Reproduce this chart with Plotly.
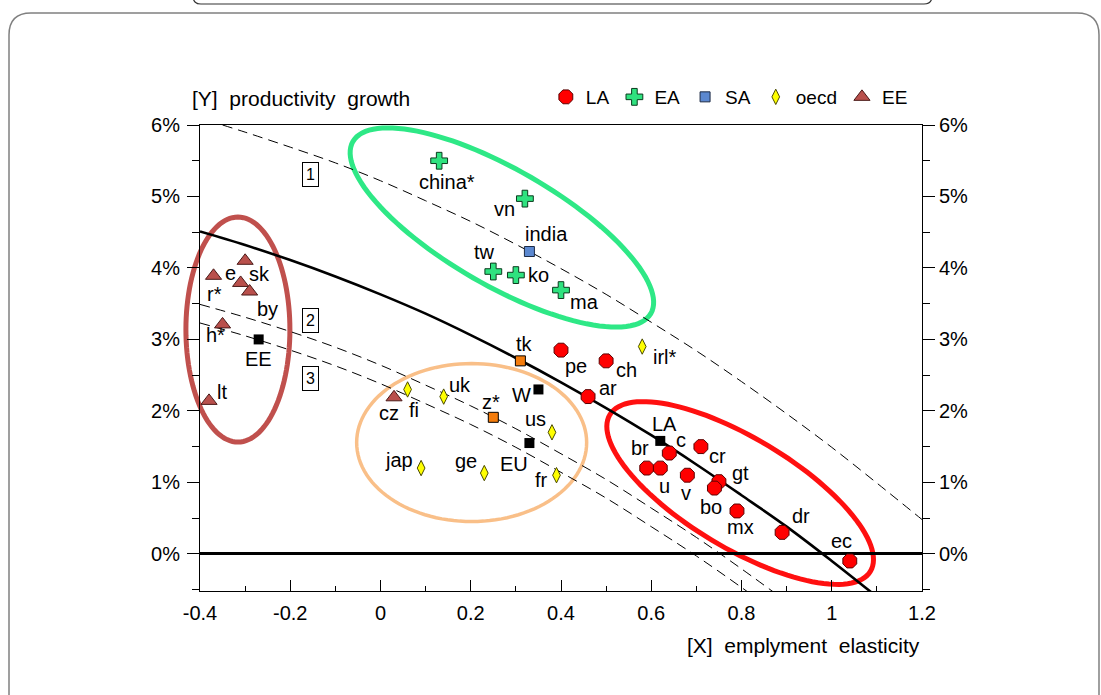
import math
import plotly.graph_objects as go

# ---------------- data ----------------
la_names = ["pe", "ch", "ar", "c", "cr", "br", "u", "v", "gt", "bo", "mx", "dr", "ec"]
la_x = [0.40, 0.50, 0.46, 0.64, 0.71, 0.59, 0.62, 0.68, 0.75, 0.74, 0.79, 0.89, 1.04]
la_y = [2.85, 2.70, 2.20, 1.41, 1.50, 1.20, 1.20, 1.10, 1.01, 0.92, 0.60, 0.30, -0.10]

ea_names = ["china*", "vn", "tw", "ko", "ma"]
ea_x = [0.13, 0.32, 0.25, 0.30, 0.40]
ea_y = [5.50, 4.97, 3.95, 3.90, 3.69]

sa_names = ["india"]
sa_x = [0.33]
sa_y = [4.23]

oecd_names = ["irl*", "fi", "uk", "us", "jap", "ge", "fr"]
oecd_x = [0.58, 0.06, 0.14, 0.38, 0.09, 0.23, 0.39]
oecd_y = [2.90, 2.30, 2.20, 1.70, 1.20, 1.13, 1.10]

ee_names = ["cz", "r*", "e", "sk", "by", "h*", "lt"]
ee_x = [0.03, -0.37, -0.31, -0.30, -0.29, -0.35, -0.38]
ee_y = [2.19, 3.89, 3.79, 4.10, 3.67, 3.21, 2.14]

agg_names = ["EE", "W", "EU", "LA"]
agg_x = [-0.27, 0.35, 0.33, 0.62]
agg_y = [3.00, 2.30, 1.55, 1.58]

oth_names = ["tk", "z*"]
oth_x = [0.31, 0.25]
oth_y = [2.70, 1.91]

# reference curves
solid_x = [-0.4, -0.3, -0.2, -0.1, 0.0, 0.1, 0.2, 0.3, 0.4, 0.5, 0.6, 0.7, 0.8, 0.9, 1.0, 1.1]
solid_y = [4.51, 4.32, 4.11, 3.88, 3.63, 3.36, 3.06, 2.74, 2.40, 2.04, 1.66, 1.25, 0.82, 0.38, -0.10, -0.60]

dash1_x = [-0.35, -0.3, -0.2, -0.1, 0.0, 0.1, 0.2, 0.3, 0.4, 0.5, 0.6, 0.7, 0.8, 0.9, 1.0, 1.1, 1.2]
dash1_y = [6.00, 5.90, 5.69, 5.47, 5.22, 4.94, 4.65, 4.33, 3.99, 3.63, 3.24, 2.84, 2.41, 1.96, 1.49, 0.99, 0.48]

dash23_x = [-0.4, -0.3, -0.2, -0.1, 0.0, 0.1, 0.2, 0.3, 0.4, 0.5, 0.6, 0.7, 0.8, 0.9]
dash2_y = [3.49, 3.31, 3.11, 2.89, 2.64, 2.36, 2.07, 1.75, 1.40, 1.04, 0.64, 0.23, -0.21, -0.67]
dash3_y = [3.23, 3.05, 2.85, 2.63, 2.38, 2.10, 1.81, 1.49, 1.14, 0.78, 0.38, -0.03, -0.47, -0.93]

x_ticks = [-0.4, -0.2, 0.0, 0.2, 0.4, 0.6, 0.8, 1.0, 1.2]
x_ticktext = ["-0.4", "-0.2", "0", "0.2", "0.4", "0.6", "0.8", "1", "1.2"]
y_ticks = [0, 1, 2, 3, 4, 5, 6]
y_ticktext = ["0%", "1%", "2%", "3%", "4%", "5%", "6%"]

# ---------------- layout geometry ----------------
W, H = 1101, 695
ML, MR, MT, MB = 200, 179, 125, 104
PW, PH = W - ML - MR, H - MT - MB
XR = [-0.4, 1.2]
YR = [-0.52, 6.0]
PXX = PW / (XR[1] - XR[0])
PXY = PH / (YR[1] - YR[0])

FONT = "Liberation Sans, Arial, Helvetica, sans-serif"

label_off = {
    "pe": (15, 16), "ch": (20, 9), "ar": (20, -9), "c": (12, -13), "cr": (17, 9),
    "br": (-7, -20), "u": (4, 18), "v": (-1, 18), "gt": (22, -9), "bo": (-3, 19),
    "mx": (4, 16), "dr": (19, -16), "ec": (-8, -20),
    "china*": (8, 21), "vn": (-20, 10), "tw": (-9, -20), "ko": (23, 0), "ma": (23, 12),
    "india": (17, -18),
    "irl*": (23, 10), "fi": (6, 21), "uk": (16, -12), "us": (-16, -13), "jap": (-22, -8),
    "ge": (-18, -12), "fr": (-15, 5),
    "cz": (-5, 16), "r*": (1, 18), "e": (-10, -10), "sk": (14, 13), "by": (18, 17),
    "h*": (-7, 11), "lt": (13, -9),
    "EE": (0, 20), "W": (-17, 6), "EU": (-15, 21), "LA": (4, -17),
    "tk": (4, -17), "z*": (-2, -15),
}

fig = go.Figure()

# curves
fig.add_trace(go.Scatter(x=solid_x, y=solid_y, mode="lines", line=dict(color="black", width=2.6, shape="spline"),
                         showlegend=False, hoverinfo="skip"))
for cx_, cy_ in [(dash1_x, dash1_y), (dash23_x, dash2_y), (dash23_x, dash3_y)]:
    fig.add_trace(go.Scatter(x=cx_, y=cy_, mode="lines",
                             line=dict(color="black", width=1, dash="10px,6px", shape="spline"),
                             showlegend=False, hoverinfo="skip"))

# markers
fig.add_trace(go.Scatter(x=la_x, y=la_y, mode="markers", name="LA",
                         marker=dict(symbol="octagon", size=15, color="#ff0000", line=dict(color="#5a0000", width=1))))
fig.add_trace(go.Scatter(x=ea_x, y=ea_y, mode="markers", name="EA",
                         marker=dict(symbol="cross", size=14, color="#2fe27f", line=dict(color="#0b3b1e", width=1))))
fig.add_trace(go.Scatter(x=sa_x, y=sa_y, mode="markers", name="SA",
                         marker=dict(symbol="square", size=10, color="#5b88d0", line=dict(color="#1c2a44", width=1))))
fig.add_trace(go.Scatter(x=oecd_x, y=oecd_y, mode="markers", name="oecd",
                         marker=dict(symbol="diamond-tall", size=11, color="#ffff00", line=dict(color="#4a4a00", width=1))))
fig.add_trace(go.Scatter(x=ee_x, y=ee_y, mode="markers", name="EE",
                         marker=dict(symbol="triangle-up", size=14, color="#b9504c", line=dict(color="#4a1a18", width=1))))
fig.add_trace(go.Scatter(x=agg_x, y=agg_y, mode="markers", showlegend=False,
                         marker=dict(symbol="square", size=10, color="black")))
fig.add_trace(go.Scatter(x=oth_x, y=oth_y, mode="markers", showlegend=False,
                         marker=dict(symbol="square", size=10, color="#f47c0c", line=dict(color="black", width=1))))
# dummy trace for right axis
fig.add_trace(go.Scatter(x=[None], y=[None], yaxis="y2", showlegend=False, hoverinfo="skip"))

annotations = []
for names, xs, ys in [(la_names, la_x, la_y), (ea_names, ea_x, ea_y), (sa_names, sa_x, sa_y),
                      (oecd_names, oecd_x, oecd_y), (ee_names, ee_x, ee_y),
                      (agg_names, agg_x, agg_y), (oth_names, oth_x, oth_y)]:
    for n, xv, yv in zip(names, xs, ys):
        dx, dy = label_off[n]
        annotations.append(dict(x=xv, y=yv, xref="x", yref="y", text=n, showarrow=False,
                                xanchor="center", yanchor="middle", xshift=dx, yshift=-dy,
                                font=dict(family=FONT, size=20, color="black")))

# numbered boxes
for txt, bx, by in [("1", -0.156, 5.31), ("2", -0.156, 3.27), ("3", -0.156, 2.46)]:
    annotations.append(dict(x=bx, y=by, xref="x", yref="y", text=txt, showarrow=False,
                            font=dict(family=FONT, size=16, color="black"),
                            bordercolor="black", borderwidth=1, borderpad=3, bgcolor="white"))

annotations.append(dict(x=-10 / PW, y=1 + (MT - 98) / PH, xref="paper", yref="paper",
                        text="[Y]  productivity  growth", showarrow=False, xanchor="left", yanchor="middle",
                        font=dict(family=FONT, size=21, color="black")))
annotations.append(dict(x=1.0, y=-(645 - (H - MB)) / PH, xref="paper", yref="paper",
                        text="[X]  emplyment  elasticity", showarrow=False, xanchor="right", yanchor="middle",
                        font=dict(family=FONT, size=21, color="black")))


def ellipse_path(cx, cy, a_px, b_px, ang_deg, n=120):
    """Ellipse outline in paper coordinates (not clipped to the plot area)."""
    th = math.radians(ang_deg)
    cxp = ML + (cx - XR[0]) * PXX
    cyp = MT + (YR[1] - cy) * PXY
    pts = []
    for k in range(n):
        t = 2 * math.pi * k / n
        dx = a_px * math.cos(t) * math.cos(th) - b_px * math.sin(t) * math.sin(th)
        dy = a_px * math.cos(t) * math.sin(th) + b_px * math.sin(t) * math.cos(th)
        px, py = cxp + dx, cyp + dy
        pts.append(((px - ML) / PW, (H - MB - py) / PH))
    return "M " + " L ".join(f"{a:.5f},{b:.5f}" for a, b in pts) + " Z"


shapes = []
for (cx, cy, a, b, ang, col, lw) in [
    (0.269, 4.566, 172, 58, 30, "#2ee886", 5),
    (0.797, 0.851, 152, 55, 31, "#ff1010", 5),
    (0.202, 1.557, 115, 79, 0, "#f9bf88", 3.5),
    (-0.316, 3.138, 52, 112.5, 0, "#c0504d", 5),
]:
    shapes.append(dict(type="path", xref="paper", yref="paper", path=ellipse_path(cx, cy, a, b, ang),
                       line=dict(color=col, width=lw), layer="below"))


def pp(px, py):
    return f"{(px - ML) / PW:.5f},{(H - MB - py) / PH:.5f}"


# page frame (rounded) and top box
frame = (f"M {pp(9, 720)} L {pp(9, 35)} Q {pp(9, 13)} {pp(31, 13)} L {pp(1077, 13)} "
         f"Q {pp(1099, 13)} {pp(1099, 35)} L {pp(1099, 720)}")
shapes.append(dict(type="path", xref="paper", yref="paper", path=frame, line=dict(color="#808080", width=1.5)))
topbox = (f"M {pp(193, -20)} L {pp(193, -4)} Q {pp(193, 4)} {pp(201, 4)} L {pp(924, 4)} "
          f"Q {pp(932, 4)} {pp(932, -4)} L {pp(932, -20)}")
shapes.append(dict(type="path", xref="paper", yref="paper", path=topbox, line=dict(color="#333333", width=1.2)))

fig.update_layout(
    width=W, height=H,
    margin=dict(l=ML, r=MR, t=MT, b=MB, pad=0),
    paper_bgcolor="white", plot_bgcolor="white",
    font=dict(family=FONT, size=20, color="black"),
    showlegend=True,
    legend=dict(orientation="h", x=0.479, y=1 + (MT - 97) / PH, xanchor="left", yanchor="middle",
                bgcolor="rgba(0,0,0,0)", font=dict(family=FONT, size=19), itemwidth=30,
                tracegroupgap=0),
    xaxis=dict(range=XR, tickvals=x_ticks, ticktext=x_ticktext, ticks="inside", ticklen=11,
               tickwidth=1, tickcolor="black", showline=True, linecolor="black", linewidth=1,
               mirror=True, showgrid=False, zeroline=False, ticklabelstandoff=4,
               tickfont=dict(family=FONT, size=20),
               minor=dict(dtick=0.1, ticks="inside", ticklen=5, tickcolor="black", tickwidth=1)),
    yaxis=dict(range=YR, tickvals=y_ticks, ticktext=y_ticktext, ticks="outside", ticklen=12,
               tickwidth=1, tickcolor="black", showline=True, linecolor="black", linewidth=1,
               showgrid=False, zeroline=True, zerolinecolor="black", zerolinewidth=2.6,
               ticklabelstandoff=3, tickfont=dict(family=FONT, size=20),
               minor=dict(dtick=0.5, ticks="outside", ticklen=7, tickcolor="black", tickwidth=1)),
    yaxis2=dict(range=YR, overlaying="y", side="right", tickvals=y_ticks, ticktext=y_ticktext,
                ticks="outside", ticklen=12, tickwidth=1, tickcolor="black", showline=True,
                linecolor="black", linewidth=1, showgrid=False, zeroline=False,
                tickfont=dict(family=FONT, size=20),
                minor=dict(dtick=0.5, ticks="outside", ticklen=7, tickcolor="black", tickwidth=1)),
    annotations=annotations,
    shapes=shapes,
)

fig.write_html("out.html", config={"displayModeBar": False},
               post_script="document.body.style.margin='0';")
